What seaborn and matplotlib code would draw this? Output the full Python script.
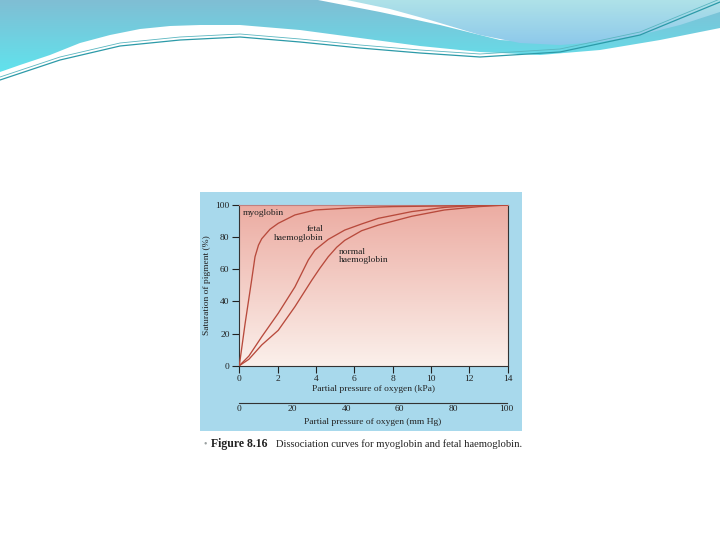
import numpy as np
import pandas as pd
import matplotlib
matplotlib.use("Agg")
import matplotlib.pyplot as plt
from matplotlib.patches import Polygon, Rectangle
import seaborn as sns

# ---------------- data ----------------
myo_kpa = [0, 0.3, 0.64, 0.82, 1.0, 1.17, 1.6, 2.03, 2.9, 3.95, 6, 8, 10, 12, 14]
myo_sat = [0, 26, 53, 67.8, 75, 79, 84.9, 88.6, 93.8, 96.9, 98.3, 99, 99.3, 99.6, 100]
fetal_kpa = [0, 0.5, 1.17, 2.03, 2.9, 3.6, 3.95, 4.64, 5.5, 6.38, 7.25, 9, 10.7, 12, 14]
fetal_sat = [0, 6, 18, 32.6, 49, 65.8, 72, 78.6, 84.4, 88.2, 91.7, 95.9, 98.5, 99.5, 100]
normal_kpa = [0, 0.5, 1.17, 2.03, 2.9, 3.77, 4.2, 4.64, 5.08, 5.5, 6.38, 7.25, 9, 10.7, 12.5, 14]
normal_sat = [0, 4, 12.9, 22, 36.7, 53, 60.6, 67.8, 73.7, 78, 84, 87.5, 93, 96.9, 99, 100]
curve_names = ["myoglobin", "fetal haemoglobin", "normal haemoglobin"]
kpa_ticks = [0, 2, 4, 6, 8, 10, 12, 14]
kpa_ticklabels = ["0", "2", "4", "6", "8", "10", "12", "14"]
sat_ticks = [0, 20, 40, 60, 80, 100]
mmhg_ticks = [0, 20, 40, 60, 80, 100]

df = pd.concat([
    pd.DataFrame({"kPa": myo_kpa, "sat": myo_sat, "curve": curve_names[0]}),
    pd.DataFrame({"kPa": fetal_kpa, "sat": fetal_sat, "curve": curve_names[1]}),
    pd.DataFrame({"kPa": normal_kpa, "sat": normal_sat, "curve": curve_names[2]}),
])

sns.set_style("white")
plt.rcParams["font.family"] = ["Liberation Serif", "DejaVu Serif"]

W, H = 720, 540
fig = plt.figure(figsize=(7.2, 5.4), dpi=100)
fig.patch.set_facecolor("white")

# ---------------- background slide ----------------
bg = fig.add_axes([0, 0, 1, 1])
bg.set_xlim(0, W)
bg.set_ylim(H, 0)
bg.axis("off")

def grad_poly(ax, pts, c_top, c_bot, y0, y1, z=1):
    poly = Polygon(pts, closed=True, facecolor="none", edgecolor="none")
    ax.add_patch(poly)
    g = np.linspace(0, 1, 256)[:, None, None]
    ct = np.array(c_top)[None, None, :] / 255
    cb = np.array(c_bot)[None, None, :] / 255
    img = ct * (1 - g) + cb * g
    im = ax.imshow(img, extent=[0, W, y1, y0], aspect="auto", zorder=z)
    im.set_clip_path(poly)

left_pts = [(0, 0), (720, 0), (720, 28), (660, 40), (600, 50),
            (540, 55), (480, 52), (420, 46), (360, 38), (300, 30), (240, 25),
            (200, 25), (170, 26), (140, 29), (110, 35), (80, 43), (50, 55), (20, 65), (0, 72)]
grad_poly(bg, left_pts, (128, 190, 212), (95, 228, 238), 0, 75, z=1)
stripe_pts = [(318, 0), (720, 0), (720, 10), (640, 33), (560, 43), (500, 40), (440, 25), (380, 12)]
bg.add_patch(Polygon(stripe_pts, closed=True, facecolor="white", edgecolor="none", zorder=2))
lens_pts = [(347, 0), (720, 0), (720, 12), (680, 25), (640, 35), (600, 42), (560, 45),
            (520, 43), (480, 35), (430, 20), (390, 9)]
grad_poly(bg, lens_pts, (175, 226, 232), (140, 200, 235), 0, 46, z=3)
lx = [0, 60, 120, 180, 240, 300, 360, 420, 480, 560, 640, 720]
ly = [80, 60, 46, 40, 37, 42, 48, 53, 57, 52, 35, 2]
bg.plot(lx, ly, color="#2c9aa8", lw=0.9, zorder=4)
bg.plot(lx, [v - 3 for v in ly], color="#5ab6c0", lw=0.6, zorder=4)

bg.add_patch(Rectangle((200, 192), 322, 239, facecolor="#a8d9ec", edgecolor="none", zorder=1))
bg.text(203, 444, "•", color="#9aa0a0", fontsize=7, va="center", ha="left")
bg.text(211, 444, "Figure 8.16", fontsize=8.5, fontweight="bold", va="center", ha="left", color="#222222")
bg.text(276, 444, "Dissociation curves for myoglobin and fetal haemoglobin.", fontsize=7.6,
        va="center", ha="left", color="#222222")

# ---------------- main chart ----------------
x0, x1 = 239.3, 507.7
y0, y1 = 205.0, 365.7
ax = fig.add_axes([x0 / W, (H - y1) / H, (x1 - x0) / W, (y1 - y0) / H])
ax.set_facecolor("none")
g = np.linspace(0, 1, 256)[:, None, None]
top = np.array([236, 172, 162])[None, None, :] / 255
bot = np.array([251, 240, 235])[None, None, :] / 255
ax.imshow(top * (1 - g) + bot * g, extent=[0, 14, 0, 100], aspect="auto", zorder=0)

sns.lineplot(data=df, x="kPa", y="sat", hue="curve", ax=ax, legend=False,
             palette=["#b84a3c", "#b84a3c", "#b84a3c"], lw=0.95, sort=False, zorder=3)
ax.set_xlim(0, 14)
ax.set_ylim(0, 100)
ax.set_xticks(kpa_ticks)
ax.set_xticklabels(kpa_ticklabels)
ax.set_yticks(sat_ticks)
ax.tick_params(axis="both", direction="out", length=5, width=0.8, labelsize=6.8,
               colors="#222222", pad=2, bottom=True, left=True)
for s in ax.spines.values():
    s.set_color("#333333")
    s.set_linewidth(0.8)
ax.spines["top"].set_color("#c08080")
ax.set_xlabel("Partial pressure of oxygen (kPa)", fontsize=6.8, color="#222222", labelpad=1)
ax.set_ylabel("Saturation of pigment (%)", fontsize=6.8, color="#222222", labelpad=3)

ax.text(0.19, 95, "myoglobin", fontsize=6.8, ha="left", va="center", color="#222222")
ax.text(4.38, 82.3, "fetal\nhaemoglobin", fontsize=6.8, ha="right", va="center",
        multialignment="right", color="#222222", linespacing=1.05)
ax.text(5.2, 68.3, "normal\nhaemoglobin", fontsize=6.8, ha="left", va="center",
        multialignment="left", color="#222222", linespacing=1.05)

# ---------------- secondary mmHg scale ----------------
m1 = 506.7
ym = 402.7
ax2 = fig.add_axes([x0 / W, (H - ym) / H, (m1 - x0) / W, 0.0001])
ax2.set_facecolor("none")
ax2.set_xlim(0, 100)
ax2.set_yticks([])
for k in ["top", "left", "right"]:
    ax2.spines[k].set_visible(False)
ax2.spines["bottom"].set_color("#333333")
ax2.spines["bottom"].set_linewidth(0.8)
ax2.set_xticks(mmhg_ticks)
ax2.tick_params(axis="x", direction="in", length=5, width=0.8, labelsize=6.8,
                colors="#222222", pad=2)
ax2.set_xlabel("Partial pressure of oxygen (mm Hg)", fontsize=6.8, color="#222222", labelpad=3)

fig.savefig("out.png", dpi=100)
